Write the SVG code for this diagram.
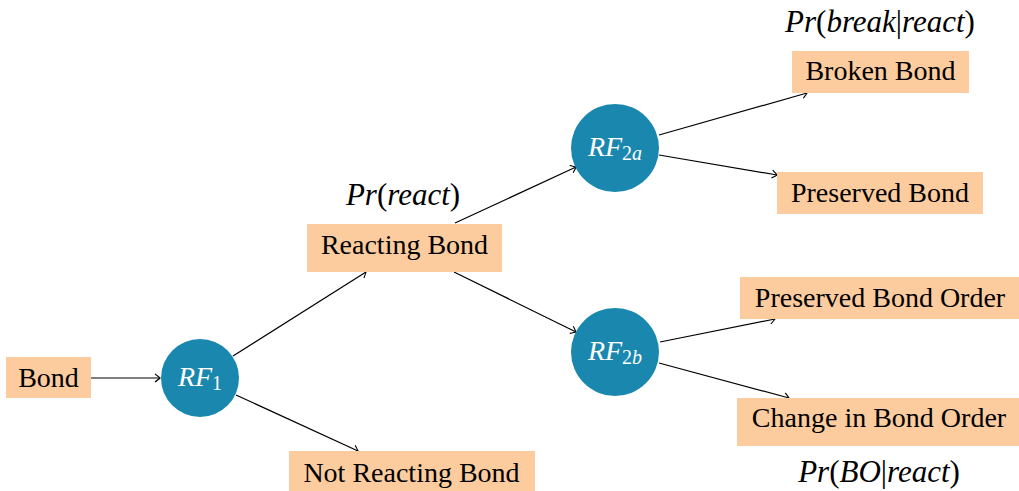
<svg xmlns="http://www.w3.org/2000/svg" width="1019" height="491" viewBox="0 0 1019 491">
<style>
.box{fill:#fccc9f}
.rf{fill:#1a87ae}
.lbl{fill:#000;text-anchor:middle}
.rft{fill:#fff;text-anchor:middle;font-style:italic}
.math{fill:#000;text-anchor:middle;font-size:31px}
.it{font-style:italic}
.sub{font-size:20px}
.edge{stroke:#000;stroke-width:1.2;fill:none;marker-end:url(#arr)}
</style>
<defs>
<marker id="arr" viewBox="-6 -5 7 10" markerWidth="7" markerHeight="10" markerUnits="userSpaceOnUse" refX="0" refY="0" orient="auto">
<path d="M -5 -4 Q -1 -1 0 0 Q -1 1 -5 4" fill="none" stroke="#000" stroke-width="1.1"/>
</marker>
</defs>
<g id="connectors">
<line class="edge" x1="91" y1="378" x2="160" y2="378"/>
<line class="edge" x1="233" y1="356" x2="366" y2="272"/>
<line class="edge" x1="236" y1="395" x2="358" y2="451"/>
<line class="edge" x1="455" y1="223" x2="576" y2="167"/>
<line class="edge" x1="454" y1="272" x2="576" y2="332"/>
<line class="edge" x1="659" y1="135" x2="807" y2="93"/>
<line class="edge" x1="659" y1="155" x2="777" y2="175"/>
<line class="edge" x1="660" y1="342" x2="775" y2="319"/>
<line class="edge" x1="659" y1="363" x2="789" y2="398"/>
</g>
<g font-family="Liberation Serif, Times New Roman, serif" font-size="28">
<g id="bond">
<rect class="box" x="6" y="357" width="85" height="41"/>
<text class="lbl" x="48.5" y="387">Bond</text>
</g>
<g id="rf1">
<circle class="rf" cx="200" cy="378" r="39"/>
<text class="rft" x="200" y="386">RF<tspan class="sub" font-style="normal" dy="4">1</tspan></text>
</g>
<g id="reacting">
<rect class="box" x="307" y="224" width="195" height="48"/>
<text class="lbl" x="404.5" y="254">Reacting Bond</text>
</g>
<g id="prreact">
<text class="math" x="403" y="205"><tspan class="it">Pr</tspan>(<tspan class="it">react</tspan>)</text>
</g>
<g id="notreacting">
<rect class="box" x="289" y="451" width="246" height="40"/>
<text class="lbl" x="411.5" y="482">Not Reacting Bond</text>
</g>
<g id="rf2a">
<circle class="rf" cx="615" cy="148" r="44"/>
<text class="rft" x="615" y="156">RF<tspan class="sub" dy="4"><tspan font-style="normal">2</tspan>a</tspan></text>
</g>
<g id="rf2b">
<circle class="rf" cx="615" cy="352" r="44"/>
<text class="rft" x="615" y="360">RF<tspan class="sub" dy="4"><tspan font-style="normal">2</tspan>b</tspan></text>
</g>
<g id="broken">
<rect class="box" x="792" y="51" width="177" height="42"/>
<text class="lbl" x="880.5" y="80">Broken Bond</text>
</g>
<g id="prbreak">
<text class="math" x="880" y="32"><tspan class="it">Pr</tspan>(<tspan class="it">break</tspan>|<tspan class="it">react</tspan>)</text>
</g>
<g id="preserved">
<rect class="box" x="777" y="172" width="206" height="42"/>
<text class="lbl" x="880" y="202">Preserved Bond</text>
</g>
<g id="preservedorder">
<rect class="box" x="740" y="277" width="282" height="42"/>
<text class="lbl" x="880" y="307">Preserved Bond Order</text>
</g>
<g id="changeorder">
<rect class="box" x="737" y="398" width="285" height="48"/>
<text class="lbl" x="879" y="427">Change in Bond Order</text>
</g>
<g id="prbo">
<text class="math" x="879" y="482"><tspan class="it">Pr</tspan>(<tspan class="it">BO</tspan>|<tspan class="it">react</tspan>)</text>
</g>
</g>
</svg>
